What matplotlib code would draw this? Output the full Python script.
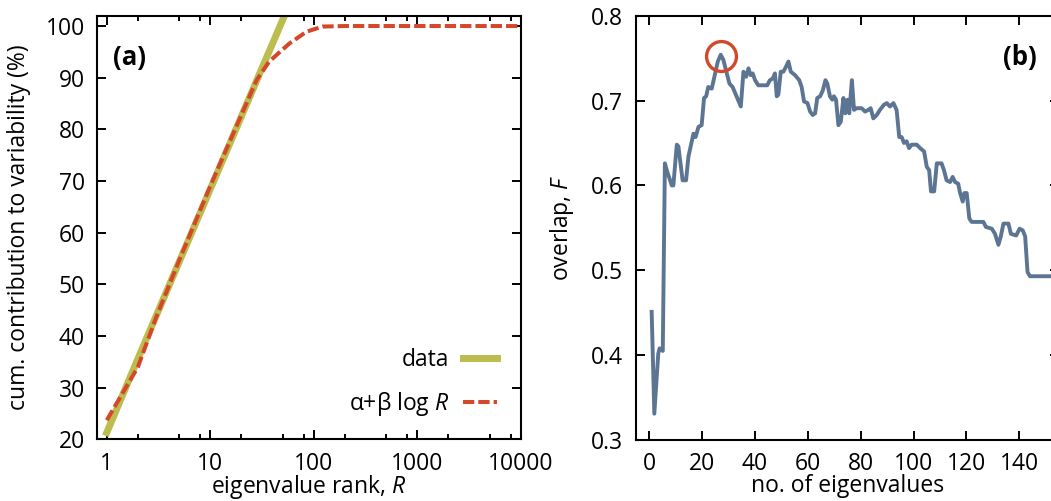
import numpy as np
import matplotlib
matplotlib.use('Agg')
import matplotlib.pyplot as plt

plt.rcParams['font.family'] = ['Open Sans', 'DejaVu Sans']
plt.rcParams['mathtext.fontset'] = 'custom'
plt.rcParams['mathtext.rm'] = 'Open Sans'
plt.rcParams['mathtext.it'] = 'Open Sans:italic'
plt.rcParams['font.size'] = 16

# panel (a): cumulative contribution vs eigenvalue rank
rank_data = [1, 2, 3, 5, 10, 20, 30, 40, 55]
cum_data = [21.3, 35.6, 43.9, 54.3, 68.4, 82.5, 90.8, 96.6, 103.1]
rank_fit = [1, 2, 3, 5, 10, 20, 28, 37, 58, 85, 122, 200, 10000]
cum_fit = [23.7, 34.0, 43.6, 54.6, 69.0, 82.8, 89.5, 93.1, 96.6, 98.9, 99.9, 100, 100]

# panel (b): overlap vs number of eigenvalues
n_eig = [1, 2, 3.5, 4, 5.2, 6, 6.7, 8.6, 9.2, 10.5, 11.1, 12.7, 14, 14.9, 16.8, 17.6,
         18.7, 19.9, 20.8, 21.6, 22.4, 23.7, 24.7, 26, 27.1, 28.1, 29.6, 30.4, 31.6,
         33.1, 34.7, 35.7, 36.7, 37.6, 38.4, 39.2, 40.1, 41.3, 43.2, 44.7, 45.7, 46.8,
         47.6, 48.3, 48.9, 49.8, 50.8, 51.8, 52.7, 53.6, 55.2, 56.8, 57.7, 58.6, 59.9,
         60.9, 61.9, 62.8, 63.6, 64.7, 65.7, 66.7, 67.4, 68.4, 69.3, 69.9, 70.7, 71.6,
         72.5, 73.5, 74.2, 75.1, 75.7, 76.7, 77.5, 78.5, 80.4, 81.7, 82.9, 83.8, 84.8,
         86.1, 87.3, 88.8, 89.9, 91.1, 92.4, 93.6, 94.6, 95.5, 96.4, 97.4, 98.3, 99.3,
         101.2, 102.5, 104, 105, 105.9, 106.6, 107.8, 108.8, 110.6, 111.5, 112.5, 113.8,
         114.8, 115.7, 116.9, 117.6, 118.6, 119.2, 120.1, 121.1, 122, 126.4, 127.4,
         129.6, 130.8, 132.1, 133, 134, 135.9, 136.8, 138.8, 140.1, 141.3, 142.2, 143.1,
         144, 156]
overlap = [0.451, 0.331, 0.402, 0.408, 0.405, 0.626, 0.618, 0.600, 0.600, 0.648, 0.646,
           0.606, 0.606, 0.634, 0.661, 0.657, 0.669, 0.671, 0.703, 0.705, 0.716, 0.714,
           0.728, 0.746, 0.754, 0.748, 0.730, 0.720, 0.716, 0.705, 0.693, 0.734, 0.728,
           0.738, 0.730, 0.732, 0.724, 0.718, 0.718, 0.718, 0.724, 0.726, 0.732, 0.705,
           0.707, 0.734, 0.734, 0.740, 0.746, 0.734, 0.730, 0.724, 0.716, 0.699, 0.697,
           0.687, 0.683, 0.685, 0.703, 0.705, 0.712, 0.724, 0.720, 0.705, 0.701, 0.705,
           0.701, 0.671, 0.675, 0.703, 0.685, 0.701, 0.685, 0.724, 0.689, 0.691, 0.691,
           0.687, 0.689, 0.691, 0.679, 0.683, 0.689, 0.695, 0.697, 0.693, 0.697, 0.689,
           0.657, 0.657, 0.650, 0.652, 0.644, 0.648, 0.648, 0.644, 0.640, 0.622, 0.618,
           0.593, 0.593, 0.626, 0.626, 0.618, 0.606, 0.604, 0.610, 0.604, 0.602, 0.591,
           0.581, 0.591, 0.591, 0.561, 0.557, 0.557, 0.551, 0.549, 0.543, 0.530, 0.540,
           0.555, 0.555, 0.543, 0.541, 0.549, 0.547, 0.540, 0.498, 0.493, 0.493]
best_n = 27.3
best_overlap = 0.753

olive = '#bcbd4e'
red = '#d4482a'
blue = '#5b7593'

fig = plt.figure(figsize=(10.51, 5.01), dpi=100)
ax1 = fig.add_axes([97.3/1051, 61.7/501, 423.4/1051, 423.6/501])
ax2 = fig.add_axes([635.8/1051, 61.0/501, 423.2/1051, 424.3/501])

for ax in (ax1, ax2):
    for s in ax.spines.values():
        s.set_linewidth(1.5)
    ax.tick_params(which='both', direction='in', top=True, right=True, width=1.4,
                   labelsize=16.5, pad=9)
    ax.tick_params(which='major', length=6.5)
    ax.tick_params(which='minor', length=3.3)

# (a)
ax1.plot(rank_data, cum_data, color=olive, lw=5.0, solid_capstyle='projecting',
         label='data')
ax1.plot(rank_fit, cum_fit, color=red, lw=2.9, dashes=(2.8, 1.0),
         label=r'α+β log $R$')
ax1.set_xscale('log')
ax1.set_xlim(0.81, 10000)
ax1.set_ylim(20, 102)
ax1.set_xticks([1, 10, 100, 1000, 10000])
ax1.set_xticklabels(['1', '10', '100', '1000', '10000'])
minors = [m * 10**k for k in range(0, 4) for m in (2, 5, 8)]
ax1.set_xticks(minors, minor=True)
ax1.xaxis.set_minor_formatter(matplotlib.ticker.NullFormatter())
ax1.set_yticks(np.arange(20, 101, 10))
ax1.set_xlabel(r'eigenvalue rank, $R$', fontsize=16.5)
ax1.set_ylabel('cum. contribution to variability (%)', fontsize=16.5)
ax1.xaxis.set_label_coords(0.5, -0.08)
ax1.yaxis.set_label_coords(-0.157, 0.5)
ax1.text(0.037, 0.9025, '(a)', transform=ax1.transAxes, fontsize=18.5,
         fontweight='bold', va='center', ha='left')
ax1.legend(loc='lower right', bbox_to_anchor=(0.944, 0.05), frameon=False,
           markerfirst=False, borderaxespad=0, borderpad=0, handlelength=1.5,
           handletextpad=0.6, labelspacing=0.8, fontsize=16.5)

# (b)
ax2.plot(n_eig, overlap, color=blue, lw=2.8)
ax2.plot([best_n], [best_overlap], 'o', ms=21.5, mfc='none', mec=red, mew=2.4)
ax2.set_xlim(-5, 155)
ax2.set_ylim(0.3, 0.8)
ax2.set_xticks(np.arange(0, 141, 20))
ax2.set_yticks(np.arange(0.3, 0.81, 0.1))
ax2.set_yticklabels(['0.3', '0.4', '0.5', '0.6', '0.7', '0.8'])
ax2.set_xlabel('no. of eigenvalues', fontsize=16.5)
ax2.set_ylabel(r'overlap, $F$', fontsize=16.5)
ax2.xaxis.set_label_coords(0.5, -0.08)
ax2.yaxis.set_label_coords(-0.142, 0.5)
ax2.text(0.948, 0.9025, '(b)', transform=ax2.transAxes, fontsize=18.5,
         fontweight='bold', va='center', ha='right')

fig.savefig('out.png', dpi=100)
